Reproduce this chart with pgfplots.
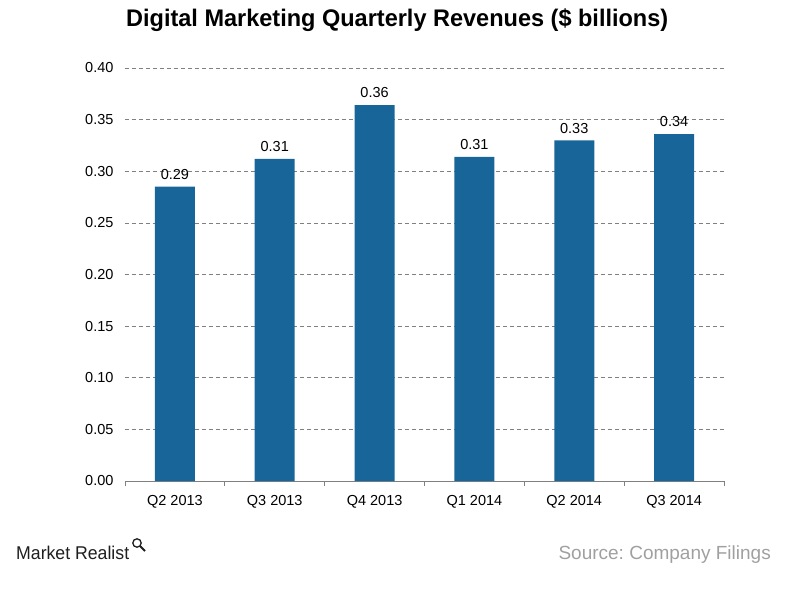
\documentclass[border=0pt]{standalone}
\usepackage{pgfplots}
\pgfplotsset{compat=1.18}
\usepackage{fontspec}
\setmainfont{Liberation Sans}
\frenchspacing
\definecolor{barblue}{RGB}{24,101,154}
\definecolor{gridgray}{RGB}{128,128,128}
\definecolor{srcgray}{RGB}{160,160,160}
\definecolor{logoblack}{RGB}{30,30,30}
\begin{document}
\begin{tikzpicture}[x=1pt,y=1pt]
\path (-125,-116) rectangle (683,481);
\begin{axis}[
  at={(0,0)}, anchor=south west,
  scale only axis, width=599pt, height=413pt,
  xmin=-0.5, xmax=5.5, ymin=0, ymax=0.4,
  axis x line=bottom, axis y line=left,
  x axis line style={draw=gridgray, line width=0.8pt, -},
  y axis line style={draw=none},
  xtick={0,1,2,3,4,5},
  xticklabels={Q2 2013,Q3 2013,Q4 2013,Q1 2014,Q2 2014,Q3 2014},
  minor xtick={-0.5,0.5,1.5,2.5,3.5,4.5,5.5},
  major tick length=0pt, minor tick length=5pt,
  tick align=outside,
  minor x tick style={draw=gridgray, line width=0.8pt},
  major tick style={draw=none},
  ytick={0,0.05,0.1,0.15,0.2,0.25,0.3,0.35,0.4},
  yticklabel style={/pgf/number format/fixed, /pgf/number format/fixed zerofill, /pgf/number format/precision=2, xshift=-8pt},
  /pgf/number format/assume math mode=true,
  ymajorgrids,
  grid style={gridgray, line width=0.6pt, dash pattern=on 4pt off 3pt},
  tick label style={font=\fontsize{14.5}{16}\selectfont, text=black},
  xticklabel style={yshift=-11pt},
]
\addplot[ybar, bar width=40pt, fill=barblue, draw=none,
  nodes near coords, point meta=explicit symbolic,
  nodes near coords style={font=\fontsize{14.5}{16}\selectfont, text=black, anchor=south, yshift=3.5pt}]
  coordinates {(0,0.285)[0.29] (1,0.312)[0.31] (2,0.364)[0.36] (3,0.314)[0.31] (4,0.330)[0.33] (5,0.336)[0.34]};
\end{axis}
\node[anchor=base west, inner sep=0pt, font=\bfseries\fontsize{24}{28}\selectfont] at (1,454)
  {\resizebox{542pt}{\height}{Digital Marketing Quarterly Revenues (\$ billions)}};
\node[anchor=base east, inner sep=0pt, text=srcgray, font=\fontsize{19}{22}\selectfont] at (646,-78)
  {Source: Company Filings};
\node[anchor=base west, inner sep=0pt, text=logoblack, font=\fontsize{18.5}{21}\selectfont] at (-109,-78)
  {\resizebox{113pt}{\height}{Market Realist}};
\draw[logoblack, line width=1.3pt] (12,-62) circle (4.2);
\draw[logoblack, line width=1.8pt] (15,-65) -- (20,-70);
\end{tikzpicture}
\end{document}
